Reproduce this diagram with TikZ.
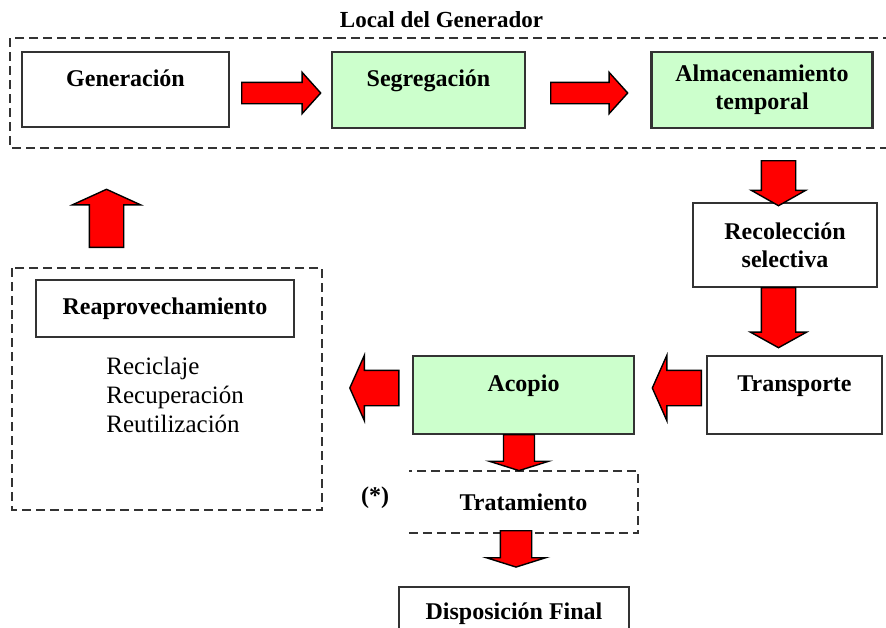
\documentclass[tikz,border=0pt]{standalone}
\usepackage{fontspec}
\setmainfont{Liberation Serif}
\usetikzlibrary{shapes.arrows}
\definecolor{verdeclaro}{HTML}{CCFFCC}
\definecolor{rojo}{HTML}{FF0000}
\begin{document}
\begin{tikzpicture}[x=0.5pt, y=-0.5pt,
    caja/.style={draw=black!80, line width=1.2pt, align=center, inner sep=0pt,
      font=\fontsize{12}{14}\selectfont\bfseries},
    verde/.style={caja, fill=verdeclaro},
    marco/.style={draw=black!80, line width=0.8pt, dash pattern=on 4.5pt off 2.5pt},
    flecha/.style={single arrow, draw=black, line width=0.7pt, fill=rojo,
      inner sep=#1, anchor=tail},
  ]
  \useasboundingbox (0,0) rectangle (886,627);

  % Local del Generador
  \node[font=\fontsize{11.5}{13}\selectfont\bfseries] (local) at (441.5,20) {Local del Generador};
  \draw[marco] (10,38) rectangle (894,148);
  \node[caja, minimum width=103.5pt, minimum height=37.5pt] (gen) at (125.5,89.5) {\strut Generación\\[-5pt]\strut};
  \node[verde, minimum width=96.5pt, minimum height=38pt] (seg) at (428.5,90) {\strut Segregación\\[-5pt]\strut};
  \node[verde, minimum width=110.5pt, minimum height=38pt] (alm) at (762,90) {Almacenamiento\\temporal};

  % recoleccion y transporte
  \node[caja, minimum width=92pt, minimum height=42pt] (rec) at (785,245) {Recolección\\selectiva};
  \node[caja, minimum width=87.5pt, minimum height=39pt] (tra) at (794.5,395) {\strut Transporte\\[-5pt]\strut};
  \node[verde, minimum width=110.5pt, minimum height=39pt] (aco) at (523.5,395) {\strut Acopio\\[-5pt]\strut};

  % tratamiento y disposicion
  \node[caja, draw=none, minimum width=113.5pt, minimum height=30pt] (trat) at (523.5,502) {Tratamiento};
  \draw[marco] (trat.south west) -- (trat.south east) -- (trat.north east) -- (trat.north west);
  \node[font=\fontsize{12}{14}\selectfont\bfseries] (nota) at (375,498) {(*)};
  \node[caja, minimum width=115pt, minimum height=37.5pt] (disp) at (514,624.5) {\strut Disposición Final\\[-3pt]\strut};

  % Reaprovechamiento
  \draw[marco] (12,268) rectangle (322,510);
  \node[caja, minimum width=129pt, minimum height=28.5pt] (reap) at (165,308.5) {Reaprovechamiento};
  \node[anchor=north west, align=left, inner sep=0pt, font=\fontsize{12.5}{14.5}\selectfont] (usos) at (106,357)
    {Reciclaje\\Recuperación\\Reutilización};

  % flechas
  \node[flecha=5pt, single arrow head extend=5pt, single arrow tip angle=96, minimum height=39.5pt] (f1) at (241,93) {};
  \node[flecha=5pt, single arrow head extend=5pt, single arrow tip angle=96, minimum height=38.5pt] (f2) at (550,93) {};
  \node[flecha=8.25pt, single arrow head extend=5pt, single arrow tip angle=121, minimum height=22.5pt,
    shape border rotate=270] (f3) at (778.5,160) {};
  \node[flecha=8.25pt, single arrow head extend=5.5pt, single arrow tip angle=122, minimum height=30pt,
    shape border rotate=270] (f4) at (778.5,287) {};
  \node[flecha=8.5pt, single arrow head extend=7.5pt, single arrow tip angle=132, minimum height=24.5pt,
    shape border rotate=180] (f5) at (702,388) {};
  \node[flecha=8.5pt, single arrow head extend=7.5pt, single arrow tip angle=132, minimum height=24.5pt,
    shape border rotate=180] (f6) at (399.5,388) {};
  \node[flecha=8.25pt, single arrow head extend=8.5pt, single arrow tip angle=131, minimum height=29pt,
    shape border rotate=90] (f7) at (106.5,248) {};
  \node[flecha=7.4pt, single arrow head extend=7pt, single arrow tip angle=145, minimum height=16pt,
    shape border rotate=270] (f8) at (519,434) {};
  \node[flecha=7.5pt, single arrow head extend=7pt, single arrow tip angle=145, minimum height=17pt,
    shape border rotate=270] (f9) at (516,530) {};
\end{tikzpicture}
\end{document}
